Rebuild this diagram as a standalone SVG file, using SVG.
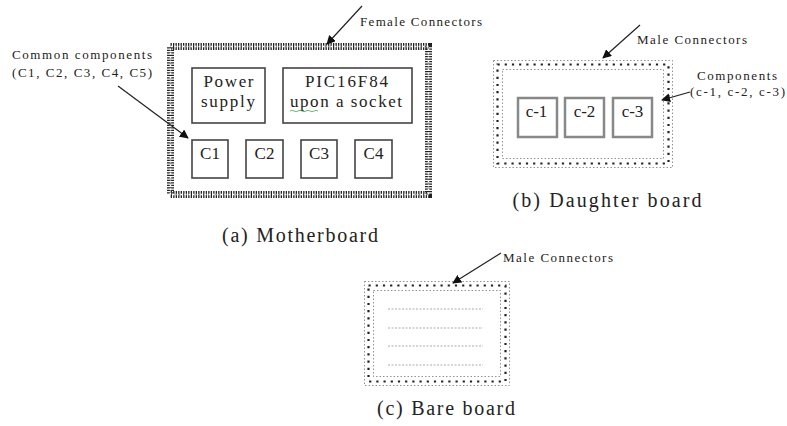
<svg xmlns="http://www.w3.org/2000/svg" width="787" height="426" viewBox="0 0 787 426">
<defs>
<marker id="ah" viewBox="0 0 10 10" refX="9" refY="5" markerWidth="9" markerHeight="9" orient="auto" markerUnits="userSpaceOnUse">
<path d="M0,0 L10,5 L0,10 z" fill="#111"/>
</marker>
</defs>
<style>
text{font-family:"Liberation Serif","Times New Roman",serif;fill:#222}
.lbl{font-size:13px}
.box{fill:#fff;stroke:#444;stroke-width:1.6}
.cbox{fill:#fff;stroke:#888;stroke-width:2.5}
.big{font-size:20px}
.mid{font-size:17px}
.conn line{stroke:#222;stroke-width:1.2;marker-end:url(#ah)}
.fem1{fill:none;stroke:#222;stroke-width:7;stroke-dasharray:1.3 1.2}
.fem2{fill:none;stroke:#fff;stroke-width:1.5;stroke-dasharray:2 2}
.dot1{fill:none;stroke:#777;stroke-width:0.8;stroke-dasharray:1.5 2}
.dot2{fill:none;stroke:#222;stroke-width:2.2;stroke-dasharray:2.2 5}
.faint{stroke:#aaa;stroke-width:1;stroke-dasharray:2 1.5}
.sq{stroke:#4a4;stroke-width:0.8;fill:none}
</style>

<g id="motherboard">
<rect class="fem1" x="170.5" y="46.5" width="258" height="148"/>
<rect class="fem2" x="170.5" y="46.5" width="258" height="148"/>
<rect class="box" x="192" y="68" width="73" height="55"/>
<text class="mid" x="228.5" y="87" text-anchor="middle" textLength="50">Power</text>
<text class="mid" x="228" y="107" text-anchor="middle" textLength="54">supply</text>
<rect class="box" x="283" y="68" width="129" height="55"/>
<text class="mid" x="346.5" y="87" text-anchor="middle" textLength="83">PIC16F84</text>
<text class="mid" x="346" y="107" text-anchor="middle" textLength="112">upon a socket</text>
<path class="sq" d="M290,111 q2,-1.5 4,0 t4,0 t4,0 t4,0 t4,0 t4,0 t4,0"/>
<rect class="box" x="192" y="140" width="36" height="38"/>
<text class="mid" x="210" y="159" text-anchor="middle">C1</text>
<rect class="box" x="246" y="140" width="37" height="38"/>
<text class="mid" x="264.5" y="159" text-anchor="middle">C2</text>
<rect class="box" x="301" y="140" width="36" height="38"/>
<text class="mid" x="319" y="159" text-anchor="middle">C3</text>
<rect class="box" x="355" y="140" width="37" height="38"/>
<text class="mid" x="373.5" y="159" text-anchor="middle">C4</text>
<text class="big" x="300" y="242" text-anchor="middle" textLength="156">(a) Motherboard</text>
</g>

<g id="daughterboard">
<rect class="dot1" x="493.5" y="60.5" width="179" height="107"/>
<rect class="dot2" x="497.5" y="64.5" width="171" height="99"/>
<rect class="dot1" x="502.5" y="69.5" width="161" height="89"/>
<rect class="cbox" x="518" y="98" width="39" height="39"/>
<text class="mid" x="536.5" y="117" text-anchor="middle">c-1</text>
<rect class="cbox" x="565" y="98" width="39" height="39"/>
<text class="mid" x="584.5" y="117" text-anchor="middle">c-2</text>
<rect class="cbox" x="613" y="98" width="39" height="39"/>
<text class="mid" x="632.5" y="117" text-anchor="middle">c-3</text>
<text class="big" x="607" y="207" text-anchor="middle" textLength="189">(b) Daughter board</text>
</g>

<g id="bareboard">
<rect class="dot1" x="364.5" y="281.5" width="145" height="104"/>
<rect class="dot2" x="368.5" y="285.5" width="137" height="96"/>
<rect class="dot1" x="373.5" y="290.5" width="127" height="86"/>
<line class="faint" x1="388" y1="309" x2="483" y2="309"/>
<line class="faint" x1="388" y1="328" x2="483" y2="328"/>
<line class="faint" x1="388" y1="346" x2="483" y2="346"/>
<line class="faint" x1="388" y1="365" x2="483" y2="365"/>
<text class="big" x="446" y="415" text-anchor="middle" textLength="138">(c) Bare board</text>
</g>

<g id="labels">
<text class="lbl" x="12" y="59" textLength="140">Common components</text>
<text class="lbl" x="12" y="77" textLength="140">(C1, C2, C3, C4, C5)</text>
<text class="lbl" x="360" y="26" textLength="122">Female Connectors</text>
<text class="lbl" x="637" y="44" textLength="110">Male Connectors</text>
<text class="lbl" x="697" y="80" textLength="80">Components</text>
<text class="lbl" x="690" y="96" textLength="95">(c-1, c-2, c-3)</text>
<text class="lbl" x="503" y="262" textLength="110">Male Connectors</text>
</g>

<g id="connectors" class="conn">
<line x1="118" y1="86" x2="188" y2="138"/>
<line x1="362" y1="6" x2="327" y2="44"/>
<line x1="640" y1="25" x2="603" y2="58"/>
<line x1="690" y1="92" x2="662" y2="100"/>
<line x1="501" y1="253" x2="453" y2="283"/>
</g>
</svg>
